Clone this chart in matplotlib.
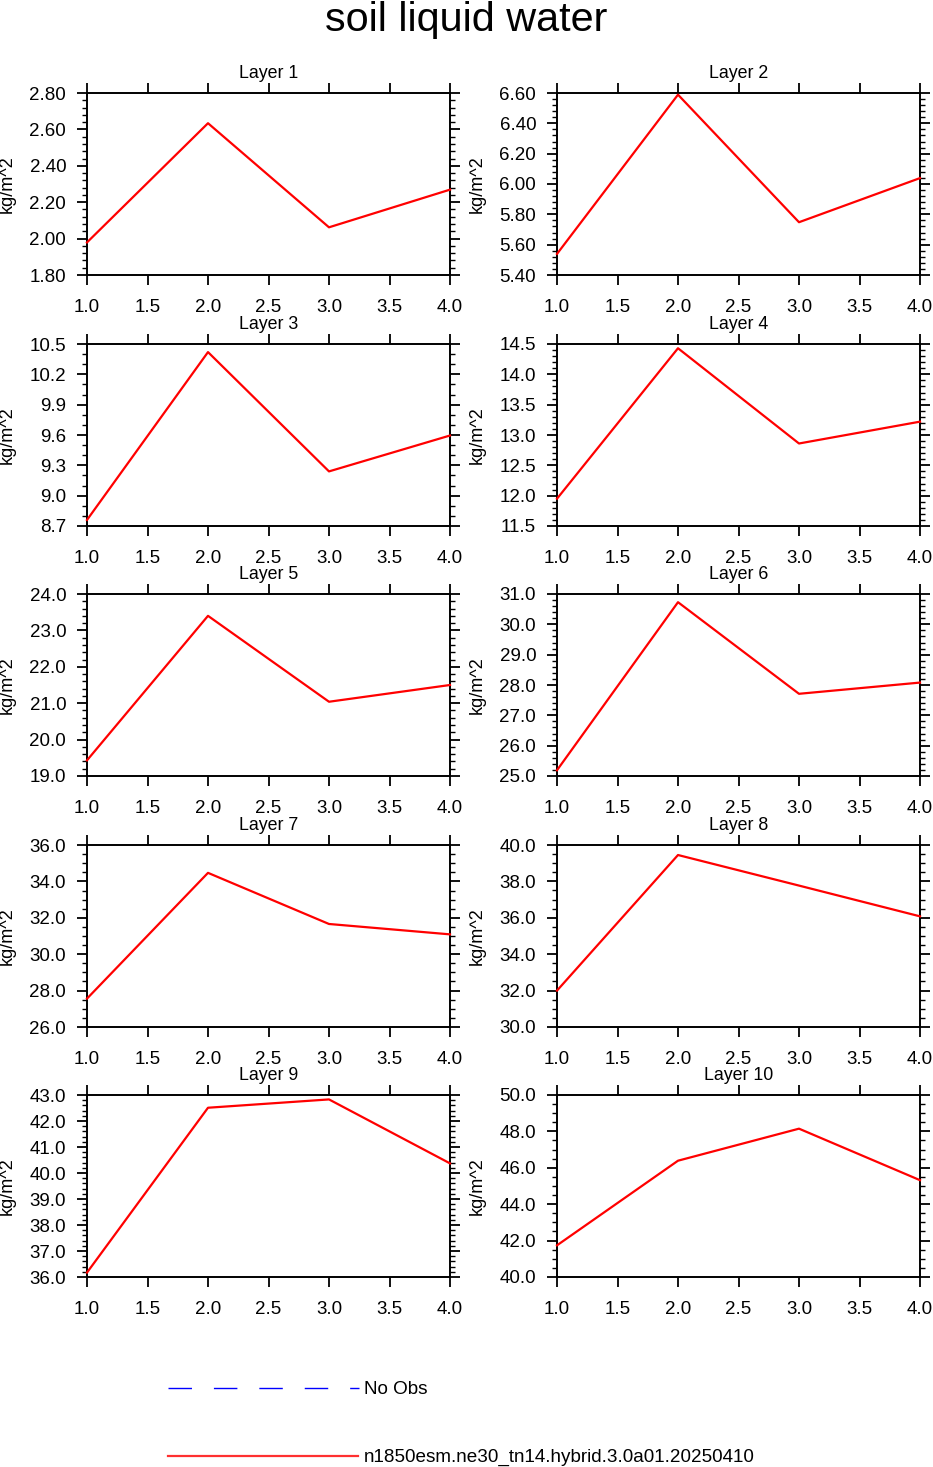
import matplotlib
matplotlib.use("Agg")
import matplotlib.pyplot as plt
from matplotlib.ticker import MultipleLocator, FormatStrFormatter
from matplotlib.lines import Line2D

plt.rcParams['font.family'] = ['Liberation Sans', 'DejaVu Sans']

x_vals = [1.0, 2.0, 3.0, 4.0]
layer_titles = ["Layer 1", "Layer 2", "Layer 3", "Layer 4", "Layer 5",
                "Layer 6", "Layer 7", "Layer 8", "Layer 9", "Layer 10"]
layer1 = [1.979, 2.634, 2.062, 2.269]
layer2 = [5.539, 6.589, 5.748, 6.039]
layer3 = [8.76, 10.42, 9.24, 9.595]
layer4 = [11.95, 14.43, 12.86, 13.22]
layer5 = [19.43, 23.40, 21.04, 21.50]
layer6 = [25.19, 30.73, 27.71, 28.08]
layer7 = [27.56, 34.47, 31.66, 31.09]
layer8 = [32.0, 39.45, 37.77, 36.08]
layer9 = [36.17, 42.51, 42.83, 40.37]
layer10 = [41.74, 46.39, 48.15, 45.32]
series = [layer1, layer2, layer3, layer4, layer5, layer6, layer7, layer8, layer9, layer10]

# y-axis settings
y_ranges = [(1.8, 2.8), (5.4, 6.6), (8.7, 10.5), (11.5, 14.5), (19.0, 24.0),
            (25.0, 31.0), (26.0, 36.0), (30.0, 40.0), (36.0, 43.0), (40.0, 50.0)]
y_major = [0.2, 0.2, 0.3, 0.5, 1.0, 1.0, 2.0, 2.0, 1.0, 2.0]
y_minor = [0.04, 0.04, 0.1, 0.1, 0.2, 0.2, 0.5, 0.5, 0.2, 0.5]
y_fmt = ['%.2f', '%.2f', '%.1f', '%.1f', '%.1f', '%.1f', '%.1f', '%.1f', '%.1f', '%.1f']
x_ticks = [1.0, 1.5, 2.0, 2.5, 3.0, 3.5, 4.0]

main_title = "soil liquid water"
y_label = "kg/m^2"
legend_labels = ["No Obs", "n1850esm.ne30_tn14.hybrid.3.0a01.20250410"]

W, H = 933, 1467
fig = plt.figure(figsize=(W / 100, H / 100), dpi=100)

col_left = [87, 557]
ax_w = 363
row_top = [93, 344, 594, 845, 1095]
ax_h = 182

for i in range(10):
    r, c = divmod(i, 2)
    left = col_left[c] / W
    bottom = 1 - (row_top[r] + ax_h) / H
    ax = fig.add_axes([left, bottom, ax_w / W, ax_h / H])
    ax.plot(x_vals, series[i], color='#ff0000', lw=1.6, clip_on=False, zorder=3)
    ax.set_xlim(1.0, 4.0)
    ax.set_ylim(*y_ranges[i])
    ax.set_xticks(x_ticks)
    ax.xaxis.set_major_formatter(FormatStrFormatter('%.1f'))
    ax.yaxis.set_major_locator(MultipleLocator(y_major[i]))
    ax.yaxis.set_minor_locator(MultipleLocator(y_minor[i]))
    ax.yaxis.set_major_formatter(FormatStrFormatter(y_fmt[i]))
    ax.tick_params(axis='both', which='major', direction='out', length=7.5, width=1.3,
                   labelsize=13.5, top=True, right=True)
    ax.tick_params(axis='x', which='major', pad=9.5)
    ax.tick_params(axis='y', which='major', pad=7.5)
    ax.tick_params(axis='y', which='minor', direction='out', length=3.8, width=1.0,
                   left=True, right=True)
    for sp in ax.spines.values():
        sp.set_linewidth(1.4)
    ax.set_ylabel(y_label, fontsize=13)
    ax.yaxis.set_label_coords(-0.196, 0.5)
    ax.text(0.5, 1 + 15 / ax_h, layer_titles[i], transform=ax.transAxes,
            ha='center', va='baseline', fontsize=12.8)

fig.text(0.5, 1 - 31 / H, main_title, ha='center', va='baseline', fontsize=29.8)

# legend drawn in pixel coordinates
lax = fig.add_axes([0, 0, 1, 1], zorder=-1)
lax.set_xlim(0, W)
lax.set_ylim(H, 0)
lax.axis('off')
lax.add_line(Line2D([168, 359], [1388, 1388], color='#0000ff', lw=1.0,
                    linestyle=(0, (16.9, 15.8))))
lax.text(364, 1389, legend_labels[0], ha='left', va='center', fontsize=13.6)
lax.add_line(Line2D([168, 358], [1456, 1456], color='#ff3030', lw=1.6))
lax.text(364, 1457, legend_labels[1], ha='left', va='center', fontsize=13.6)

fig.savefig("out.png", dpi=100)
